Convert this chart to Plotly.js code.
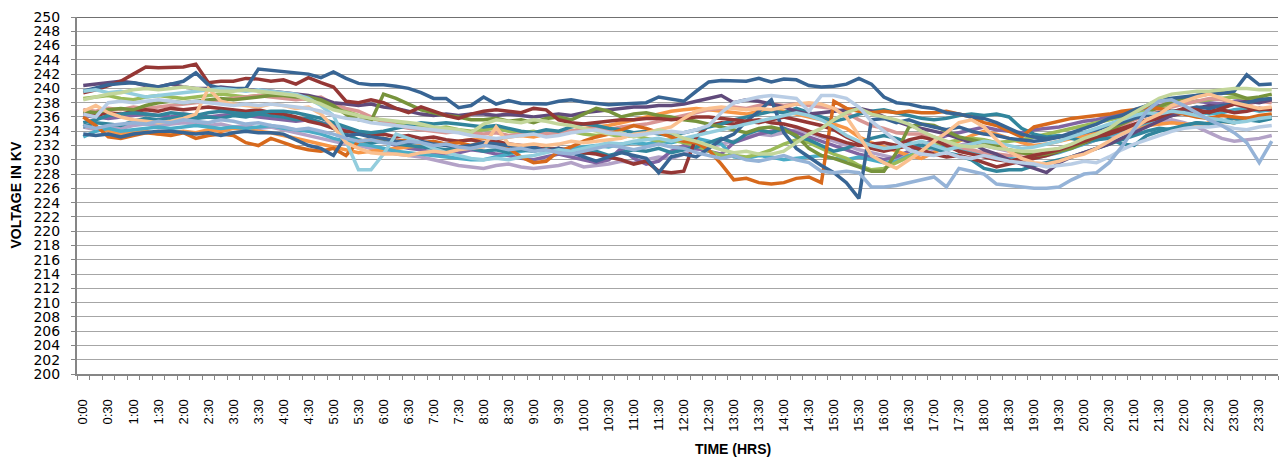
<!DOCTYPE html>
<html>
<head>
<meta charset="utf-8">
<script src="https://cdn.plot.ly/plotly-3.0.1.min.js"></script>
<style>html,body{margin:0;padding:0;background:#fff;}#chart{width:1279px;height:457px;}</style>
</head>
<body>
<div id="chart"></div>
<script>
const times = ["0:00","0:15","0:30","0:45","1:00","1:15","1:30","1:45","2:00","2:15","2:30","2:45",
"3:00","3:15","3:30","3:45","4:00","4:15","4:30","4:45","5:00","5:15","5:30","5:45",
"6:00","6:15","6:30","6:45","7:00","7:15","7:30","7:45","8:00","8:15","8:30","8:45",
"9:00","9:15","9:30","9:45","10:00","10:15","10:30","10:45","11:00","11:15","11:30","11:45",
"12:00","12:15","12:30","12:45","13:00","13:15","13:30","13:45","14:00","14:15","14:30","14:45",
"15:00","15:15","15:30","15:45","16:00","16:15","16:30","16:45","17:00","17:15","17:30","17:45",
"18:00","18:15","18:30","18:45","19:00","19:15","19:30","19:45","20:00","20:15","20:30","20:45",
"21:00","21:15","21:30","21:45","22:00","22:15","22:30","22:45","23:00","23:15","23:30","23:45"];

const seriesA = [239.6,240.0,240.5,240.7,240.8,240.5,240.2,240.6,
241.0,242.2,240.5,240.0,240.0,240.0,242.7,242.5,
242.3,242.1,242.0,241.5,242.3,241.4,240.7,240.5,
240.5,240.3,240.0,239.4,238.6,238.6,237.3,237.6,
238.8,237.8,238.3,237.9,237.8,237.8,238.2,238.4,
238.1,237.9,237.7,237.8,237.9,238.0,238.8,238.5,
238.2,239.6,240.9,241.1,241.1,241.0,241.4,240.9,
241.3,241.2,240.4,240.2,240.3,240.6,241.4,240.6,
238.8,238.0,237.8,237.4,237.2,236.6,236.4,236.0,
235.8,235.2,234.4,233.6,233.2,233.0,233.2,233.8,
234.5,235.0,235.8,236.2,237.0,237.6,238.4,238.6,
238.8,239.1,239.2,239.3,239.6,241.9,240.5,240.6];

const seriesB = [239.4,239.8,240.4,241.0,242.0,243.0,242.9,242.9,
243.0,243.4,240.8,241.0,241.0,241.4,241.3,241.0,
241.2,240.6,241.5,240.8,240.2,238.2,238.0,238.4,
238.0,237.2,236.6,237.4,236.8,236.2,235.8,236.4,
236.8,237.0,236.8,236.6,237.2,237.0,235.6,235.2,
235.0,235.2,235.4,235.6,235.6,235.8,235.8,235.6,
235.8,236.0,236.0,235.8,235.6,235.4,235.6,235.2,
235.0,234.6,234.0,233.4,233.0,232.4,232.0,232.2,
232.4,232.0,232.8,233.2,232.8,232.0,231.2,230.8,
230.4,230.0,229.8,230.2,230.6,231.0,231.4,232.0,
232.6,233.2,233.8,234.4,235.0,235.6,236.0,236.6,
237.2,237.0,236.6,237.2,237.8,237.4,237.0,237.2];

const seriesC = [233.6,233.4,233.6,233.2,233.6,233.8,234.0,234.0,
233.8,233.6,233.8,233.4,233.8,234.0,233.8,233.8,
233.6,232.8,232.0,231.6,230.6,233.4,233.6,233.2,
233.0,232.6,232.4,232.6,232.2,232.0,231.8,232.0,
232.4,232.2,232.0,231.6,231.8,231.2,231.6,231.0,
230.4,229.8,230.4,231.0,230.6,230.2,228.2,230.4,
230.8,230.4,231.6,232.8,233.6,235.4,236.8,238.4,
233.8,231.6,230.4,229.2,228.2,226.8,224.6,235.6,
235.8,235.2,235.6,235.0,234.6,234.2,234.6,234.0,
233.6,233.4,233.0,232.8,232.6,232.8,233.2,233.4,
233.8,234.2,234.8,235.2,235.8,236.2,236.6,236.8,
237.0,237.4,237.2,237.6,237.8,238.0,238.4,238.6];

const seriesO1 = [236.0,234.8,233.2,233.0,233.4,233.8,233.6,233.4,
233.8,233.0,233.4,233.6,233.4,232.4,232.0,233.0,
232.4,231.8,231.4,231.2,231.6,230.6,232.6,232.8,
233.0,232.6,232.8,232.4,232.6,232.2,232.4,232.0,
232.4,232.0,231.6,230.4,229.6,229.8,231.2,231.8,
232.6,233.2,233.6,234.2,234.8,234.4,233.8,233.2,
232.6,232.4,231.4,229.4,227.2,227.4,226.8,226.6,
226.8,227.4,227.6,226.8,238.2,237.2,236.8,236.6,
236.8,236.6,236.8,236.6,236.6,236.8,236.4,236.0,
235.2,234.8,234.0,233.2,234.6,235.0,235.4,235.8,
236.0,236.2,236.4,236.8,237.0,237.4,237.2,236.8,
236.4,236.0,235.8,236.2,236.0,235.8,236.2,236.4];

const seriesG1 = [236.8,236.6,237.0,237.2,237.0,237.6,238.0,238.2,
238.0,238.2,238.4,238.6,238.4,238.6,238.8,239.0,
239.0,238.8,238.8,238.4,237.6,236.4,235.6,235.4,
239.2,238.6,237.8,237.0,236.6,236.2,236.0,235.6,
235.6,235.8,235.4,235.6,235.2,235.8,236.0,235.6,
236.4,237.2,236.8,236.0,236.4,236.6,236.2,236.0,
235.6,235.4,235.0,234.6,234.2,233.8,234.4,234.6,
234.2,233.4,231.6,230.6,230.2,229.6,229.0,228.4,
228.4,231.0,234.6,235.0,234.8,234.0,233.2,232.8,
232.4,232.0,231.4,231.0,230.6,230.8,231.2,231.6,
232.4,233.2,234.0,235.0,235.8,236.6,237.4,238.2,
238.6,239.0,239.2,239.4,239.2,238.6,238.8,239.2];

const seriesP1 = [240.4,240.6,240.8,241.0,240.8,240.4,240.2,240.6,
240.2,240.0,240.0,240.2,240.0,239.8,239.8,239.6,
239.4,239.2,239.0,238.6,238.0,237.8,237.6,237.8,
237.4,237.2,236.8,236.4,236.2,236.4,236.2,236.4,
236.4,236.2,236.4,236.2,236.0,236.2,236.4,236.2,
236.6,236.8,237.0,237.2,237.4,237.4,237.6,237.6,
237.8,238.2,238.6,239.0,238.0,238.4,238.2,237.8,
237.4,236.8,236.4,236.6,236.8,237.0,237.2,236.8,
236.0,235.4,234.8,234.4,234.0,233.6,233.0,232.4,
231.4,230.8,230.0,229.4,228.8,228.2,229.6,230.4,
231.0,231.6,232.2,233.0,233.8,234.6,235.4,236.2,
236.8,237.2,237.6,237.4,237.8,238.2,238.0,238.4];

const seriesT1 = [235.2,235.6,236.2,236.4,236.6,236.4,236.2,236.6,
236.4,236.2,236.6,236.8,236.6,236.4,236.6,236.8,
236.8,236.6,236.2,235.8,235.2,234.6,234.0,233.8,
234.0,234.4,234.8,235.2,235.0,235.2,235.0,234.8,
234.6,234.8,234.4,234.0,233.8,234.2,234.0,234.6,
235.0,234.8,234.4,234.2,233.8,234.0,233.6,233.4,
233.8,234.2,234.6,235.0,235.6,236.0,236.4,236.8,
236.6,237.2,236.6,236.0,235.4,235.8,236.4,236.8,
237.0,236.6,236.2,235.8,235.6,235.8,236.2,236.4,
236.2,236.4,236.0,234.4,233.6,233.2,233.4,233.0,
232.6,232.8,233.0,232.2,232.0,233.4,234.0,234.4,
234.8,235.2,235.0,235.4,235.8,235.6,236.0,236.2];

const seriesT2 = [234.6,235.2,235.0,234.8,235.4,235.8,235.6,235.8,
236.0,235.8,236.0,235.8,236.2,236.0,236.4,236.2,
236.0,235.6,235.8,235.2,234.4,233.6,232.8,232.4,
232.6,232.2,232.0,231.8,231.6,231.4,231.8,231.6,
231.2,231.4,231.0,231.4,231.2,231.6,231.4,231.0,
230.8,231.2,230.6,231.0,231.4,231.2,231.6,231.0,
231.4,231.8,232.4,233.0,232.4,233.6,234.2,233.8,
234.4,233.2,232.8,232.0,231.2,231.6,232.4,233.0,
233.4,233.0,232.4,232.0,231.6,231.0,230.6,230.0,
228.8,228.4,228.6,228.6,229.2,229.6,230.0,230.4,
231.0,231.6,232.2,232.8,233.4,234.0,234.4,234.2,
234.8,235.2,235.0,235.4,235.2,235.6,235.4,235.8];

const seriesR2 = [236.4,236.2,236.6,236.4,236.8,237.0,236.8,237.2,
237.0,237.2,237.4,237.2,237.0,236.8,237.0,236.6,
236.4,236.0,235.4,235.0,234.4,234.0,233.8,233.4,
233.6,233.2,233.4,233.0,233.2,232.8,232.6,232.8,
232.4,232.6,232.2,232.0,231.8,231.4,231.6,231.2,
231.0,230.8,230.4,230.0,229.4,229.8,228.4,228.2,
228.4,233.2,234.8,235.2,235.0,235.4,235.2,235.6,
236.0,235.6,235.2,234.8,234.2,233.2,232.4,231.6,
231.2,231.6,232.0,231.4,230.8,230.4,230.6,230.2,
229.6,229.0,229.4,229.8,230.2,230.6,231.2,231.8,
232.4,233.0,233.6,234.2,234.8,235.4,235.8,236.2,
236.6,236.4,236.8,237.0,236.6,236.8,237.2,237.0];

const seriesG2 = [238.6,238.8,239.0,238.6,238.4,238.8,239.0,238.8,
238.6,238.8,239.0,239.2,239.0,238.8,239.0,239.2,
239.0,238.8,238.4,238.0,237.4,236.8,236.2,235.8,
235.4,235.0,234.8,234.6,234.4,234.6,234.2,234.0,
234.2,234.4,234.0,233.8,234.0,233.6,233.8,234.0,
233.6,233.4,233.6,233.2,233.4,233.0,232.6,232.8,
232.4,232.0,231.2,230.6,230.6,230.4,230.8,231.4,
232.2,232.8,232.4,231.6,230.8,230.2,229.2,228.6,
228.8,229.6,230.4,231.2,232.0,232.4,232.8,233.0,
232.8,232.4,232.6,232.8,233.2,233.6,234.0,234.4,
234.8,235.2,235.6,236.0,236.4,236.8,237.2,237.6,
237.8,238.2,238.4,238.6,238.8,238.6,238.4,238.6];

const seriesM = [236.2,236.0,235.8,236.0,236.2,236.4,236.2,236.0,
236.4,236.2,236.0,236.2,236.4,236.2,236.0,235.8,
235.6,235.4,235.6,235.2,234.8,234.4,233.8,233.2,
232.6,232.0,231.6,231.4,231.0,230.8,231.0,231.4,
231.2,230.8,230.6,230.2,230.0,230.4,230.8,230.4,
230.0,229.6,230.0,231.6,230.2,229.4,229.8,231.2,
232.0,231.6,231.2,230.8,232.4,233.0,233.6,234.0,
234.4,233.8,233.2,232.6,232.0,231.4,230.8,230.4,
230.0,230.4,231.2,232.0,232.8,233.4,233.8,234.2,
234.6,234.2,234.0,233.8,234.2,234.4,234.6,235.0,
235.4,235.6,236.0,236.4,236.8,237.2,237.6,237.8,
238.0,238.2,238.0,237.8,238.2,238.4,238.2,238.6];

const seriesLC2 = [233.2,234.0,234.4,234.0,234.2,234.4,234.6,234.4,
234.6,234.8,234.6,234.4,234.6,234.4,234.6,234.8,
234.4,234.2,234.0,233.6,233.0,232.6,232.2,232.0,
231.6,231.2,231.0,230.8,230.6,230.4,230.2,230.0,
230.0,230.4,230.8,231.2,231.4,231.2,231.4,231.6,
231.8,232.0,231.8,232.2,232.4,232.2,232.6,232.4,
232.8,233.0,232.6,232.2,230.4,230.2,230.6,230.4,
230.0,230.2,230.4,230.6,230.2,230.0,230.4,230.0,
229.6,229.8,230.6,231.4,231.8,232.0,231.6,231.0,
230.6,230.4,230.2,230.0,230.2,230.6,231.0,231.6,
232.2,232.8,233.4,234.0,234.6,235.2,235.8,236.2,
236.6,236.8,236.4,236.6,237.0,237.2,236.8,237.0];

const seriesO2 = [234.8,234.4,234.0,233.6,233.8,234.0,233.6,233.8,
234.0,233.8,234.2,234.0,234.4,234.2,234.0,233.8,
233.4,233.0,232.6,232.2,231.8,231.4,231.0,231.2,
231.4,231.6,231.8,232.0,232.4,232.2,232.6,232.8,
233.0,232.8,233.2,233.4,233.2,233.6,233.8,234.0,
234.4,234.6,234.8,235.2,235.6,236.0,236.4,236.8,
237.0,237.2,237.0,236.8,236.6,236.4,236.8,237.0,
236.8,236.4,236.0,235.6,235.0,234.4,233.2,232.4,
231.8,231.2,230.6,230.2,231.0,231.8,232.6,233.4,
234.0,233.6,233.0,232.4,232.0,232.2,232.6,233.0,
233.4,233.8,234.0,234.4,234.6,234.8,235.0,235.2,
235.0,234.8,235.2,235.4,235.2,235.6,235.8,236.0];

const seriesLB = [234.8,234.4,234.8,235.0,235.2,235.0,235.4,235.2,
235.6,235.4,235.2,235.6,235.4,235.0,235.2,234.8,
234.6,234.2,234.4,234.0,233.6,233.0,232.6,232.8,
232.4,232.2,232.6,232.4,232.0,232.2,231.8,231.6,
232.0,231.8,231.4,231.6,231.2,231.4,231.0,230.8,
231.2,231.6,232.0,231.8,231.4,231.8,232.2,231.8,
231.6,231.0,230.6,230.2,230.6,230.0,229.8,230.2,
230.6,230.0,229.6,228.4,228.2,228.4,228.2,226.2,
226.2,226.4,226.8,227.2,227.6,226.2,228.8,228.4,
228.0,226.6,226.4,226.2,226.0,226.0,226.2,227.2,
228.0,228.2,229.6,231.8,234.4,236.8,238.2,238.4,
237.6,236.6,235.6,234.8,233.8,232.4,229.6,232.6];

const seriesLB2 = [236.4,236.0,238.0,238.2,238.0,238.2,238.4,238.2,
238.0,238.2,238.0,237.8,237.6,237.8,237.6,237.8,
237.6,237.4,237.2,236.8,236.2,235.8,235.6,235.2,
235.0,234.8,234.6,234.4,234.2,234.0,233.8,233.4,
233.2,233.0,233.2,233.4,233.6,233.2,233.4,233.8,
234.0,234.2,233.8,233.6,233.4,233.6,233.8,234.0,
233.8,234.2,234.8,236.6,238.0,238.4,238.8,239.0,
238.8,238.6,236.8,239.0,239.0,238.6,237.4,235.4,
234.0,232.6,231.4,230.8,230.6,231.0,230.4,230.2,
230.6,230.2,229.8,229.6,229.4,229.0,229.2,229.4,
229.8,229.6,230.4,231.4,232.2,232.8,233.4,234.0,
234.4,234.6,234.6,234.8,234.4,234.2,234.6,234.8];

const seriesLG = [238.4,238.8,239.2,239.4,239.8,240.0,239.8,240.0,
240.2,240.0,239.8,239.6,239.6,239.8,239.6,239.4,
239.2,239.0,238.4,237.8,237.0,236.6,236.2,235.8,
235.6,235.4,235.2,235.0,234.6,234.4,234.2,233.8,
235.0,235.6,235.4,235.2,235.6,235.4,235.0,234.8,
234.4,234.0,233.6,233.8,233.2,233.6,234.2,233.8,
233.0,232.6,232.0,231.4,231.0,231.2,230.8,230.8,
231.2,232.4,233.6,234.4,235.6,236.6,237.2,236.4,
236.0,235.6,235.0,234.0,233.2,232.6,232.0,231.8,
232.0,231.6,231.4,231.2,231.2,231.4,231.6,232.2,
233.0,233.6,234.4,235.6,236.6,237.6,238.6,239.2,
239.4,239.6,239.6,239.8,240.0,240.0,239.8,239.8];

const seriesPE = [236.8,237.6,236.6,236.0,235.6,235.4,235.2,235.4,
235.8,236.4,240.0,238.2,237.8,237.6,237.4,237.8,
237.6,237.2,237.4,236.4,234.6,232.4,231.6,231.0,
230.8,230.8,230.6,231.0,231.2,231.0,231.4,231.6,
231.8,234.6,232.2,232.0,232.2,232.0,232.2,232.6,
232.4,232.6,232.8,233.0,233.6,233.8,234.2,234.6,
235.8,236.8,237.2,237.4,237.2,237.0,237.2,237.0,
237.4,237.8,238.0,237.8,237.2,236.0,233.4,230.6,
229.6,228.8,230.0,231.2,232.6,233.8,235.2,235.6,
234.6,232.8,231.2,230.2,229.6,229.4,229.8,230.4,
230.8,231.6,232.6,233.6,234.4,235.6,236.4,237.6,
238.2,238.8,239.2,238.6,238.0,237.6,237.2,237.4];

const seriesLCy = [239.6,239.8,239.4,239.6,239.2,238.8,239.0,239.2,
239.4,239.6,239.8,240.0,239.8,239.6,239.8,239.6,
239.4,239.2,238.6,237.6,236.2,232.6,228.6,228.6,
230.8,233.6,233.0,232.4,231.6,231.0,230.6,230.2,
230.0,230.2,230.0,230.4,230.6,231.0,231.4,231.2,
231.6,232.0,232.4,232.2,232.6,232.8,233.0,232.6,
233.0,233.4,233.8,234.2,234.6,235.0,235.4,235.8,
236.2,236.6,236.2,235.6,234.6,233.4,232.6,232.0,
231.6,231.8,232.2,232.6,232.0,231.4,231.8,232.2,
232.6,232.4,232.0,231.6,231.8,232.2,232.6,233.2,
233.8,234.4,235.0,235.6,236.2,236.6,236.4,236.8,
236.6,236.2,235.8,235.6,235.2,235.4,235.8,236.0];

const seriesLV = [234.6,234.2,234.6,234.4,234.8,235.0,234.8,235.0,
235.2,235.0,234.8,235.0,234.6,234.8,234.4,234.6,
234.2,233.8,233.4,233.0,232.6,232.2,232.0,231.6,
231.2,230.8,230.6,230.4,230.0,229.6,229.2,229.0,
228.8,229.2,229.4,229.0,228.8,229.0,229.2,229.6,
229.0,229.2,229.4,229.8,229.6,230.0,230.4,230.2,
230.8,231.4,231.8,232.2,232.6,233.2,233.6,233.4,
233.8,234.2,233.8,233.2,232.6,232.0,231.4,231.0,
230.6,230.2,230.4,230.8,231.2,231.6,232.0,232.4,
232.0,231.6,231.2,231.0,230.8,231.0,231.4,231.8,
232.2,232.8,233.2,233.6,234.2,234.8,235.2,235.6,
235.2,234.6,233.8,233.0,232.6,232.8,233.0,233.4];

const seriesPK = [237.0,236.8,237.2,237.0,237.4,237.2,237.4,237.6,
237.8,238.0,238.2,238.4,238.6,238.8,239.0,238.8,
238.6,238.4,238.6,238.8,237.8,237.2,236.8,236.0,
235.4,234.8,234.4,234.2,234.0,233.8,234.0,233.8,
233.6,233.8,233.4,233.6,233.8,233.6,233.8,234.0,
234.2,234.4,234.2,234.6,234.8,235.0,235.4,235.8,
236.2,236.6,237.0,237.2,237.4,237.2,237.6,237.8,
237.6,237.8,237.6,237.4,237.2,236.6,235.6,234.8,
234.4,233.8,233.6,233.6,233.2,232.4,231.8,231.4,
231.0,230.8,230.6,230.8,231.0,231.2,231.6,232.0,
232.6,233.2,234.0,234.8,235.6,236.2,236.8,237.4,
237.8,238.2,238.6,238.4,238.0,237.8,238.2,238.0];

const seriesList = [
  {y: seriesLV,  color: '#B3A2C7'},
  {y: seriesM,   color: '#8064A2'},
  {y: seriesO2,  color: '#F79646'},
  {y: seriesLC2, color: '#4BACC6'},
  {y: seriesG2,  color: '#9BBB59'},
  {y: seriesPK,  color: '#D99694'},
  {y: seriesT2,  color: '#31859C'},
  {y: seriesR2,  color: '#953735'},
  {y: seriesT1,  color: '#31859C'},
  {y: seriesP1,  color: '#604A7B'},
  {y: seriesG1,  color: '#77933C'},
  {y: seriesO1,  color: '#D7691C'},
  {y: seriesC,   color: '#386594'},
  {y: seriesB,   color: '#953735'},
  {y: seriesA,   color: '#386594'},
  {y: seriesLCy, color: '#93CDDD'},
  {y: seriesPE,  color: '#FAC090'},
  {y: seriesLG,  color: '#C3D69B'},
  {y: seriesLB2, color: '#B9CDE5'},
  {y: seriesLB,  color: '#95B3D7'}
];

const traces = seriesList.map(s => ({
  type: 'scatter', mode: 'lines', x: times, y: s.y,
  line: {color: s.color, width: 3.5}, hoverinfo: 'skip'
}));

const tickText = times.map((t, i) => (i % 2 === 0 ? t : ''));

const layout = {
  width: 1279, height: 457,
  margin: {l: 77, r: 1, t: 17, b: 83},
  paper_bgcolor: '#ffffff', plot_bgcolor: '#ffffff',
  showlegend: false,
  xaxis: {
    type: 'category', range: [-0.5, 95.5],
    tickmode: 'array', tickvals: times, ticktext: tickText,
    tickangle: -90, tickson: 'boundaries',
    ticks: 'outside', ticklen: 4, tickcolor: '#868686', tickwidth: 1,
    showgrid: false, zeroline: false,
    showline: true, linecolor: '#868686', linewidth: 2,
    tickfont: {family: 'Liberation Sans, Arial, sans-serif', size: 13, color: '#000'},
    ticklabelstandoff: 18
  },
  yaxis: {
    range: [200, 250], tick0: 200, dtick: 2,
    ticks: 'outside', ticklen: 4, tickcolor: '#868686',
    showline: true, linecolor: '#868686', linewidth: 2,
    showgrid: true, gridcolor: '#A6A6A6', gridwidth: 1, zeroline: false,
    tickfont: {family: 'DejaVu Sans, sans-serif', size: 14, color: '#000'},
    ticklabelstandoff: 8
  },
  shapes: [
    {type: 'line', xref: 'paper', yref: 'y', x0: 0, x1: 1, y0: 250, y1: 250,
     line: {color: '#404040', width: 1.5}, layer: 'below'}
  ],
  annotations: [
    {text: '<b>VOLTAGE IN KV</b>', xref: 'paper', yref: 'paper', x: -0.0516, y: 0.5,
     xanchor: 'center', yanchor: 'middle', textangle: -90, showarrow: false,
     font: {family: 'Liberation Sans Narrow, Liberation Sans, Arial, sans-serif', size: 14, color: '#000'}},
    {text: '<b>TIME (HRS)</b>', xref: 'paper', yref: 'paper', x: 0.5458, y: -0.21,
     xanchor: 'center', yanchor: 'middle', showarrow: false,
     font: {family: 'Liberation Sans Narrow, Liberation Sans, Arial, sans-serif', size: 14, color: '#000'}}
  ]
};

Plotly.newPlot('chart', traces, layout, {staticPlot: true, displayModeBar: false});
</script>
</body>
</html>
